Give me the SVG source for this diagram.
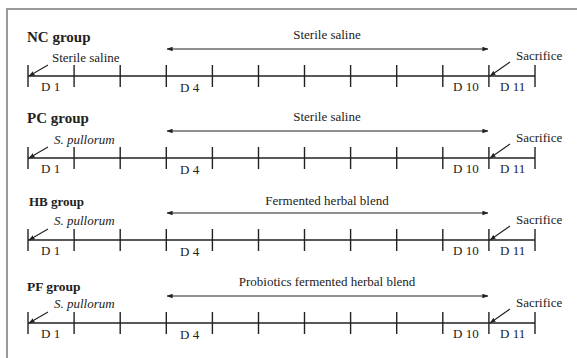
<svg xmlns="http://www.w3.org/2000/svg" xmlns:xlink="http://www.w3.org/1999/xlink" width="577" height="358" viewBox="0 0 577 358">
<style>
.frame{stroke:#9a9a9a;stroke-width:2;fill:none}
.tl{stroke:#222;stroke-width:1.4;fill:none}
.ar{stroke:#222;stroke-width:1.1;fill:none}
text{font-family:'Liberation Serif','Times New Roman','DejaVu Serif',serif}
.grp{font-weight:bold;fill:#222}
.t{font-size:13px;fill:#222}
.it{font-style:italic}
.mid{text-anchor:middle}
</style>
<defs>
<marker id="ah" viewBox="0 0 8 6" refX="7.5" refY="3" markerWidth="6" markerHeight="5" markerUnits="userSpaceOnUse" orient="auto-start-reverse">
<path d="M0,0 L8,3 L0,6 Z" fill="#222"/>
</marker>
<g id="timeline">
<path class="tl" d="M28,0 H535 M28,-11 V11 M74.1,-11 V11 M120.2,-11 V11 M166.3,-11 V11 M212.4,-11 V11 M258.5,-11 V11 M304.5,-11 V11 M350.6,-11 V11 M396.7,-11 V11 M442.8,-11 V11 M488.9,-11 V11 M535,-11 V11"/>
<text class="t" x="41" y="15">D 1</text>
<text class="t" x="180" y="16">D 4</text>
<text class="t" x="453" y="15">D 10</text>
<text class="t" x="500" y="15">D 11</text>
<text class="t" x="516" y="-16">Sacrifice</text>
</g>
</defs>
<path class="frame" d="M7,358 V9 H577"/>
<g id="nc">
<text class="grp" x="27" y="42" font-size="15">NC group</text>
<use xlink:href="#timeline" transform="translate(0,76)"/>
<text class="t" x="52" y="62">Sterile saline</text>
<text class="t mid" x="327" y="39">Sterile saline</text>
</g>
<g id="pc">
<text class="grp" x="27" y="123" font-size="15">PC group</text>
<use xlink:href="#timeline" transform="translate(0,158)"/>
<text class="t it" x="54" y="144">S. pullorum</text>
<text class="t mid" x="327" y="121">Sterile saline</text>
</g>
<g id="hb">
<text class="grp" x="29" y="206" font-size="13">HB group</text>
<use xlink:href="#timeline" transform="translate(0,240)"/>
<text class="t it" x="54" y="225">S. pullorum</text>
<text class="t mid" x="327" y="205">Fermented herbal blend</text>
</g>
<g id="pf">
<text class="grp" x="27" y="291" font-size="13.5">PF group</text>
<use xlink:href="#timeline" transform="translate(0,323)"/>
<text class="t it" x="54" y="308">S. pullorum</text>
<text class="t mid" x="327" y="286">Probiotics fermented herbal blend</text>
</g>
<g id="connectors">
<line class="ar" x1="167" y1="49" x2="488" y2="49" marker-start="url(#ah)" marker-end="url(#ah)"/>
<line class="ar" x1="167" y1="131" x2="488" y2="131" marker-start="url(#ah)" marker-end="url(#ah)"/>
<line class="ar" x1="167" y1="213" x2="488" y2="213" marker-start="url(#ah)" marker-end="url(#ah)"/>
<line class="ar" x1="167" y1="296" x2="488" y2="296" marker-start="url(#ah)" marker-end="url(#ah)"/>
<line class="ar" x1="48" y1="65" x2="29" y2="76" marker-end="url(#ah)"/>
<line class="ar" x1="48" y1="147" x2="29" y2="158" marker-end="url(#ah)"/>
<line class="ar" x1="48" y1="229" x2="29" y2="240" marker-end="url(#ah)"/>
<line class="ar" x1="48" y1="312" x2="29" y2="323" marker-end="url(#ah)"/>
<line class="ar" x1="510" y1="62" x2="490" y2="76" marker-end="url(#ah)"/>
<line class="ar" x1="510" y1="144" x2="490" y2="158" marker-end="url(#ah)"/>
<line class="ar" x1="510" y1="226" x2="490" y2="240" marker-end="url(#ah)"/>
<line class="ar" x1="510" y1="309" x2="490" y2="323" marker-end="url(#ah)"/>
</g>
</svg>
